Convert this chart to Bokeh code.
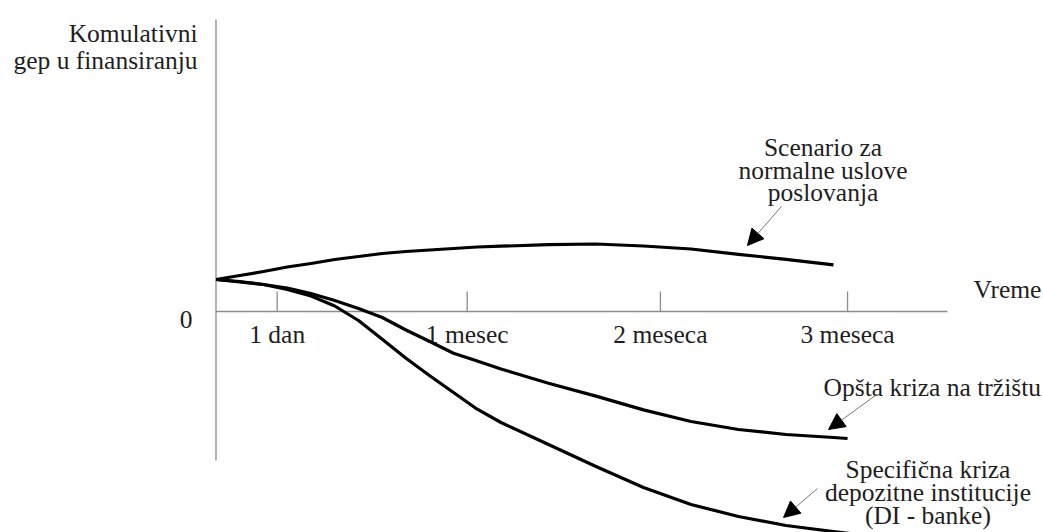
from bokeh.plotting import figure
from bokeh.models import Range1d, Arrow, NormalHead
from bokeh.core.properties import value
from bokeh.embed import file_html
from bokeh.resources import INLINE

# ---- data (schematic units: x = time, y = cumulative funding gap) ----
x_grid = [0, 0.125, 0.25, 0.375, 0.5, 0.625, 0.75, 0.875, 1.0, 1.125,
          1.25, 1.375, 1.5, 1.75, 2.0, 2.25, 2.5, 2.75, 3.0, 3.25]
normal_x = x_grid
normal_y = [0.32, 0.36, 0.40, 0.445, 0.48, 0.52, 0.55, 0.58, 0.60, 0.615,
            0.63, 0.645, 0.653, 0.668, 0.675, 0.655, 0.625, 0.572, 0.522, 0.467]
market_x = x_grid + [3.324]
market_y = [0.32, 0.30, 0.27, 0.235, 0.18, 0.11, 0.03, -0.06, -0.185, -0.30,
            -0.417, -0.496, -0.575, -0.717, -0.846, -0.984, -1.10, -1.18, -1.23, -1.26, -1.27]
specific_x = x_grid + [3.34]
specific_y = [0.32, 0.295, 0.27, 0.22, 0.155, 0.055, -0.09, -0.277, -0.467, -0.643,
              -0.81, -0.977, -1.11, -1.33, -1.55, -1.76, -1.93, -2.05, -2.14, -2.20, -2.22]

tick_pos = [0.322, 1.322, 2.339, 3.324]
tick_labels = ["1 dan", "1 mesec", "2 meseca", "3 meseca"]

y_title = ["Komulativni", "gep u finansiranju"]
normal_label = ["Scenario za", "normalne uslove", "poslovanja"]
market_label = ["Opšta kriza na tržištu"]
specific_label = ["Specifična kriza", "depozitne institucije", "(DI - banke)"]

FONT = value("Liberation Serif")
FS = "25.5px"
TXT = "#1e1e1e"
AXIS_COL = "#8c8c8c"

p = figure(width=1043, height=532, output_backend="svg", toolbar_location=None,
           x_range=Range1d(-1.1342, 4.3553), y_range=Range1d(-2.21, 3.11),
           x_axis_type=None, y_axis_type=None, min_border=0,
           background_fill_color="white", border_fill_color="white")
p.grid.visible = False
p.outline_line_color = None

def txt(xs, ys, texts, align):
    p.text(x=xs, y=ys, text=texts, text_font=FONT, text_font_size=FS,
           text_align=align, text_baseline="alphabetic", text_color=TXT)

# axes
p.segment(x0=[0, 0], y0=[2.92, 0], x1=[0, 3.85], y1=[-1.49, 0],
          line_color=AXIS_COL, line_width=1.3)
p.segment(x0=tick_pos, y0=[0] * len(tick_pos), x1=tick_pos, y1=[0.2] * len(tick_pos),
          line_color=AXIS_COL, line_width=1.3)
txt(tick_pos, [-0.23] * len(tick_pos), tick_labels, "center")
txt([-0.124], [-0.08], ["0"], "right")
txt([-0.097] * 2, [2.777, 2.51], y_title, "right")
txt([3.987], [0.22], ["Vreme"], "left")

# curves
for xs, ys in [(normal_x, normal_y), (market_x, market_y), (specific_x, specific_y)]:
    p.line(xs, ys, line_color="black", line_width=3.2, line_join="round")

# annotations
txt([3.195] * 3, [1.64, 1.41, 1.19], normal_label, "center")
txt([3.77], [-0.76], market_label, "center")
txt([3.747] * 3, [-1.58, -1.81, -2.04], specific_label, "center")

arrows = [((2.976, 1.05), (2.797, 0.66)),
          ((3.471, -0.84), (3.224, -1.18)),
          ((3.166, -1.77), (2.987, -2.06))]
for (xs0, ys0), (xs1, ys1) in arrows:
    p.add_layout(Arrow(end=NormalHead(size=16, fill_color="black", line_color="black"),
                       x_start=xs0, y_start=ys0, x_end=xs1, y_end=ys1,
                       line_color="#777777", line_width=1))

open("out.html", "w").write(file_html(p, INLINE))
